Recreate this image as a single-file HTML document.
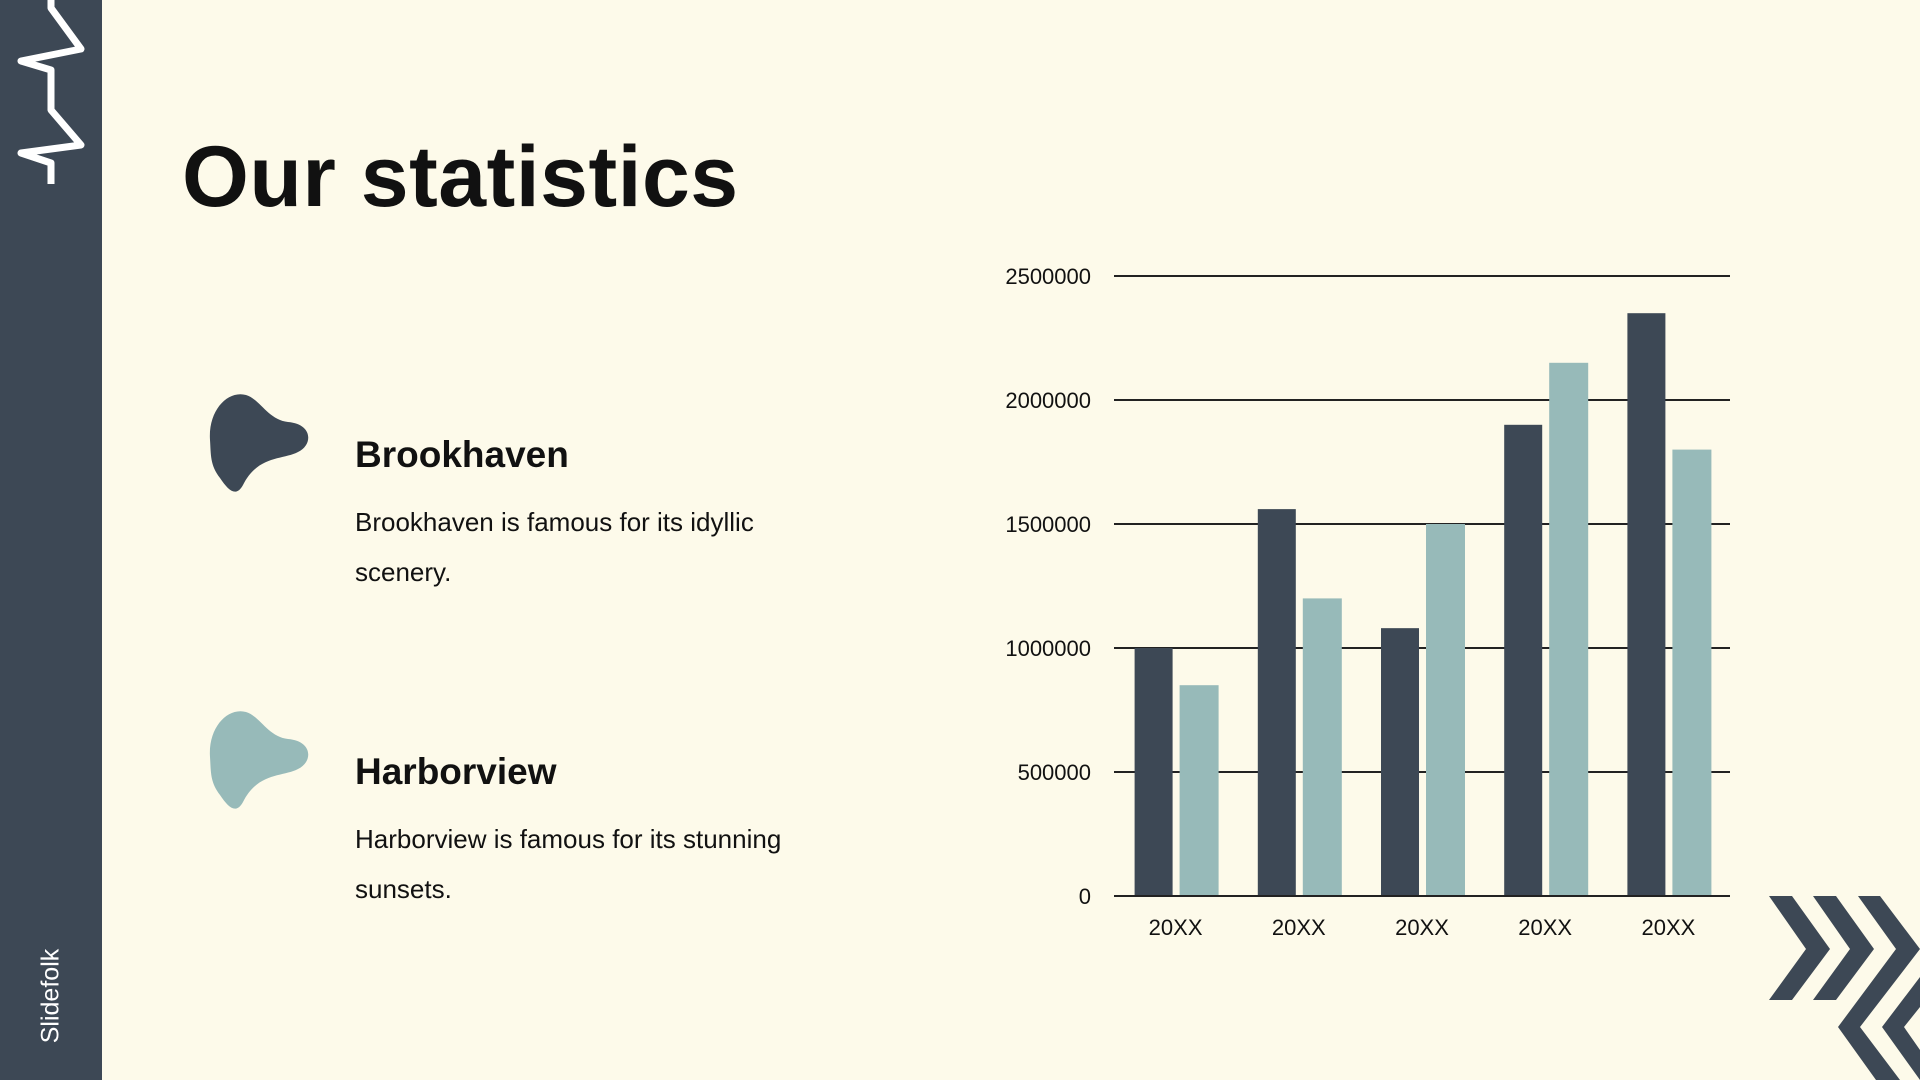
<!DOCTYPE html>
<html><head><meta charset="utf-8"><style>
body{margin:0;width:1920px;height:1080px;background:#fdfaea;position:relative;overflow:hidden;font-family:"Liberation Sans",sans-serif;color:#111}
#side{position:absolute;left:0;top:0;width:102px;height:1080px;background:#3d4855}
.abs{position:absolute}
h1{position:absolute;left:182px;top:128px;margin:0;font-size:86px;font-weight:bold;letter-spacing:0.5px}
.hd{position:absolute;left:355px;font-size:37px;font-weight:bold}
.bd{position:absolute;left:355px;font-size:26px;line-height:50px;width:460px}
</style></head><body>
<div id="side">
<svg class="abs" style="left:0;top:0" width="102" height="200"><polyline points="51,0 51,8 81,49 21,61 51,70 51,110 81,145 21,153 51,163 51,184" fill="none" stroke="#fff" stroke-width="7" stroke-linejoin="round"/></svg>
<div class="abs" style="left:51px;top:996px;transform:translate(-50%,-50%) rotate(-90deg);color:#fff;font-size:25px;white-space:nowrap">Slidefolk</div>
</div>
<h1>Our statistics</h1>
<svg class="abs" style="left:198px;top:390px" width="120" height="110"><path d="M12,50 C10,20 30,0 48,5 C62,9 70,30 90,32 C115,34 115,55 100,62 C85,70 60,65 45,95 C38,108 30,100 22,88 C12,75 13,65 12,50Z" fill="#3d4855"/></svg>
<svg class="abs" style="left:198px;top:707px" width="120" height="110"><path d="M12,50 C10,20 30,0 48,5 C62,9 70,30 90,32 C115,34 115,55 100,62 C85,70 60,65 45,95 C38,108 30,100 22,88 C12,75 13,65 12,50Z" fill="#97bab9"/></svg>
<div class="hd" style="top:434px">Brookhaven</div>
<div class="bd" style="top:497px">Brookhaven is famous for its idyllic scenery.</div>
<div class="hd" style="top:751px">Harborview</div>
<div class="bd" style="top:814px">Harborview is famous for its stunning sunsets.</div>
<svg class="abs" style="left:1740px;top:880px" width="180" height="200">
<g fill="#3d4855">
<polygon points="29,16 52,16 90,69 52,120 29,120 66,69"/>
<polygon points="73,16 96,16 134,69 96,120 73,120 110,69"/>
<polygon points="118,16 140,16 180,69 120,147 160,200 136,200 98,147 156,69"/>
<polygon points="180,97 180,127 164,147 180,170 180,200 142,147"/>
</g></svg>
<svg id="chart" class="abs" style="left:0;top:0" width="1920" height="1080"></svg>
<script>
const categories=["20XX","20XX","20XX","20XX","20XX"];
const seriesA=[1000000,1560000,1080000,1900000,2350000];
const seriesB=[850000,1200000,1500000,2150000,1800000];
const ticks=[0,500000,1000000,1500000,2000000,2500000];
const svg=document.getElementById('chart');
const NS='http://www.w3.org/2000/svg';
const x0=1114,x1=1730,y0=896,y1=276,maxV=2500000;
const y=v=>y0-(v/maxV)*(y0-y1);
const bw=(x1-x0)/categories.length;
const cx=i=>x0+bw*(i+0.5);
function mk(t,a){const e=document.createElementNS(NS,t);for(const k in a)e.setAttribute(k,a[k]);svg.appendChild(e);return e;}
ticks.forEach(t=>{
const l=mk('line',{x1:x0,x2:x1,y1:y(t),y2:y(t),stroke:'#222','stroke-width':2});


const tx=mk('text',{x:1091,y:y(t)+8,'text-anchor':'end','font-size':22,fill:'#111','font-family':'Liberation Sans, sans-serif'});
tx.textContent=t;


});
categories.forEach((c,i)=>{
const a=mk('rect',{x:cx(i)-41,y:y(seriesA[i]),width:38,height:y0-y(seriesA[i]),fill:'#3d4855'});


const b=mk('rect',{x:cx(i)+4,y:y(seriesB[i]),width:39,height:y0-y(seriesB[i]),fill:'#97bab9'});


const tx=mk('text',{x:cx(i),y:935,'text-anchor':'middle','font-size':22,fill:'#111','font-family':'Liberation Sans, sans-serif'});
tx.textContent=c;


});
const ax=mk('line',{x1:x0,x2:x1,y1:y0,y2:y0,stroke:'#222','stroke-width':2});


</script>
</body></html>
